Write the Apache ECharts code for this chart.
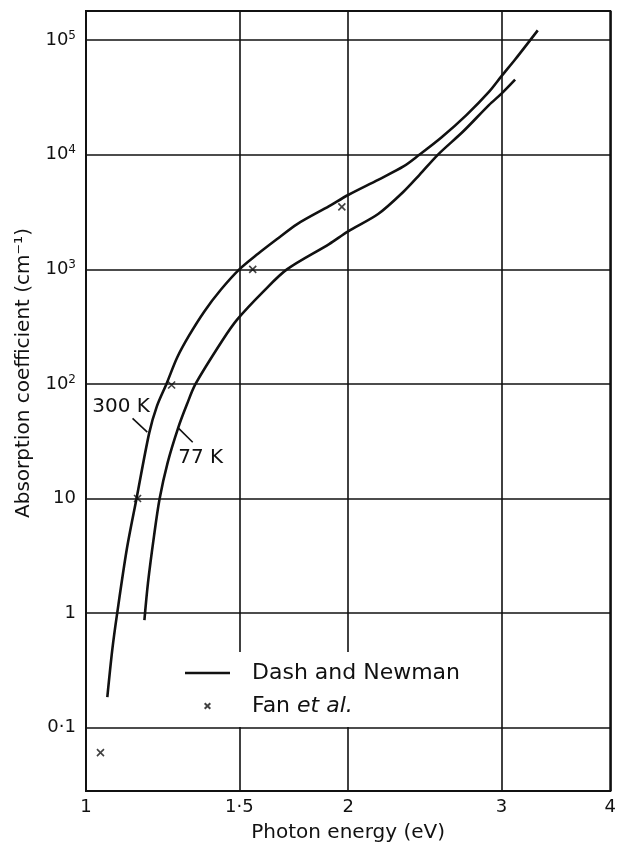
<!DOCTYPE html>
<html lang="en">
<head>
<meta charset="UTF-8">
<title>Absorption coefficient</title>
<script src="https://cdn.jsdelivr.net/npm/echarts@6/dist/echarts.min.js"></script>
</head>
<style>
html,body{margin:0;padding:0;background:#fff}
#chartBox{width:619px;height:848px}
</style>
<body>
<div id="chartBox"></div>
<script>
// Dash and Newman, 300 K
const energy300 = [1.058, 1.072, 1.086, 1.114, 1.143, 1.182, 1.206, 1.237, 1.273, 1.313, 1.368, 1.429, 1.5, 1.576, 1.656, 1.748, 1.902, 2.0, 2.165, 2.315, 2.414, 2.559, 2.736, 2.902, 3.0, 3.11, 3.302];
const alpha300 = [0.185, 0.48, 1.0, 3.62, 10, 37.4, 63.7, 100, 171, 264, 432, 667, 1000, 1368, 1830, 2485, 3565, 4460, 6050, 7910, 10000, 14150, 22340, 35400, 48600, 67900, 122000];
// Dash and Newman, 77 K
const energy77 = [1.167, 1.178, 1.197, 1.215, 1.241, 1.276, 1.306, 1.336, 1.436, 1.492, 1.598, 1.701, 1.902, 2.0, 2.165, 2.315, 2.414, 2.535, 2.714, 2.902, 3.0, 3.11];
const alpha77 = [0.87, 1.83, 4.7, 10, 20.6, 41.4, 66.4, 100, 243, 366, 640, 1000, 1663, 2148, 3040, 4755, 6650, 10000, 16130, 27160, 34200, 45300];
// Fan et al.
const energyFan = [1.039, 1.146, 1.254, 1.554, 1.967];
const alphaFan = [0.0605, 10, 98, 1000, 3515];
// tick labels
const xTicks = [1, 1.5, 2, 3, 4];
const yTicks = [0.1, 1, 10, 100, 1000, 10000, 100000];
// curve labels and their leader lines
const curveNames = ['300 K', '77 K'];
const curveNamePos = [[1.097, 63.7], [1.354, 22.9]];
const leader300 = [[1.131, 50], [1.176, 38]];
const leader77 = [[1.276, 41.4], [1.326, 31]];

const FONT = 'DejaVu Sans';
const INK = '#111';
const CROSS = 'path://M0,0L10,10M10,0L0,10';

function pairs(xs, ys) {
    return xs.map((x, i) => [x, ys[i]]);
}

function yLabel(v) {
    let p = Math.round(Math.log10(v));
    if (p >= 2) return '10{sup|' + p + '}';
    if (p === 1) return '10';
    if (p === 0) return '1';
    return '0·1';
}

function xLabel(v) {
    if (Math.abs(v - 1.5) < 0.01) return '1·5';
    return String(Math.round(v));
}

let chartObj = echarts.init(document.getElementById('chartBox'));

let curveStyle = {
    type: 'line',
    name: 'Dash and Newman',
    symbol: 'none',
    showSymbol: false,
    smooth: 0.3,
    itemStyle: {color: INK},
    lineStyle: {color: INK, width: 2.6}
};

let option = {
    animation: false,
    grid: {left: 86, right: 4, top: 11, bottom: 56, show: true, borderColor: INK, borderWidth: 2},
    xAxis: {
        type: 'log',
        min: 1,
        max: 4,
        name: 'Photon energy (eV)',
        nameLocation: 'middle',
        nameGap: 32,
        nameTextStyle: {fontFamily: FONT, fontSize: 20, color: INK},
        axisLine: {show: true, lineStyle: {color: INK, width: 2}},
        axisTick: {show: false, customValues: xTicks},
        axisLabel: {customValues: xTicks, formatter: xLabel, margin: 7, fontFamily: FONT, fontSize: 18, color: INK},
        splitLine: {show: true, lineStyle: {color: INK, width: 1.6}}
    },
    yAxis: {
        type: 'log',
        min: 0.028,
        max: 180000,
        name: 'Absorption coefficient (cm⁻¹)',
        nameLocation: 'middle',
        nameGap: 52,
        nameTextStyle: {fontFamily: FONT, fontSize: 20, color: INK, padding: [0, 0, 0, 56]},
        axisLine: {show: true, lineStyle: {color: INK, width: 2}},
        axisTick: {show: false, customValues: yTicks},
        axisLabel: {
            customValues: yTicks,
            formatter: yLabel,
            margin: 10,
            fontFamily: FONT,
            fontSize: 18,
            color: INK,
            rich: {sup: {fontFamily: FONT, fontSize: 12, color: INK, padding: [0, 0, 9, 0]}}
        },
        splitLine: {show: true, lineStyle: {color: INK, width: 1.6}}
    },
    legend: {
        orient: 'vertical',
        left: 175,
        top: 652,
        padding: [10, 10, 10, 10],
        backgroundColor: '#fff',
        itemWidth: 45,
        itemHeight: 14,
        itemGap: 11,
        data: [
            {name: 'Dash and Newman', icon: 'path://M0,0L45,0L45,2.6L0,2.6Z'},
            {name: 'Fan et al.', icon: 'path://M0,0M20,20M6,6L14,14M14,6L6,14'}
        ],
        formatter: name => name === 'Fan et al.' ? '{g|}Fan {i|et al.}' : '{g|}' + name,
        textStyle: {
            fontFamily: FONT,
            fontSize: 22,
            color: INK,
            rich: {
                g: {width: 17},
                i: {fontFamily: FONT, fontSize: 22, fontStyle: 'italic', color: INK}
            }
        }
    },
    series: [
        Object.assign({}, curveStyle, {data: pairs(energy300, alpha300)}),
        Object.assign({}, curveStyle, {data: pairs(energy77, alpha77)}),
        {
            type: 'scatter',
            name: 'Fan et al.',
            symbol: CROSS,
            symbolSize: 7,
            itemStyle: {color: 'transparent', borderColor: INK, borderWidth: 1.6},
            data: pairs(energyFan, alphaFan),
            z: 5
        },
        {
            type: 'line',
            name: 'lead300',
            symbol: 'none',
            silent: true,
            lineStyle: {color: INK, width: 1.6},
            data: leader300
        },
        {
            type: 'line',
            name: 'lead77',
            symbol: 'none',
            silent: true,
            lineStyle: {color: INK, width: 1.6},
            data: leader77
        },
        {
            type: 'scatter',
            name: 'curveNames',
            symbolSize: 0,
            silent: true,
            itemStyle: {color: 'transparent'},
            label: {
                show: true, position: 'inside', formatter: '{b}',
                fontFamily: FONT, fontSize: 20, color: INK, textBorderWidth: 0, opacity: 1
            },
            data: curveNames.map((n, i) => ({name: n, value: curveNamePos[i]}))
        }
    ]
};

chartObj.setOption(option);
</script>
</body>
</html>
